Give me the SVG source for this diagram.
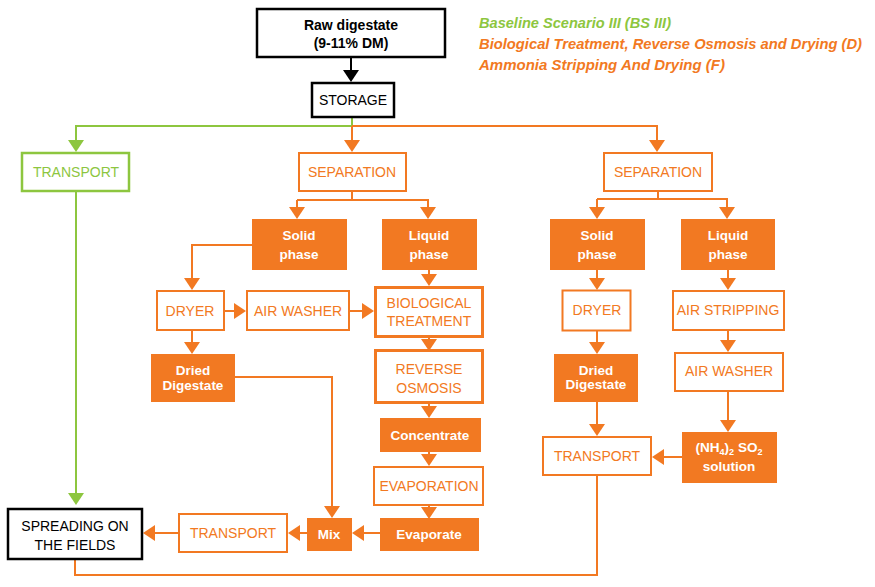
<svg xmlns="http://www.w3.org/2000/svg" width="875" height="587" viewBox="0 0 875 587">
<defs>
<marker id="ao" viewBox="0 -8 12 16" refX="0" refY="0" markerWidth="12" markerHeight="16" markerUnits="userSpaceOnUse" orient="auto"><path d="M0,-8 L12,0 L0,8 Z" fill="#F27922"/></marker>
<marker id="ag" viewBox="0 -8 12 16" refX="0" refY="0" markerWidth="12" markerHeight="16" markerUnits="userSpaceOnUse" orient="auto"><path d="M0,-8 L12,0 L0,8 Z" fill="#8DC63F"/></marker>
<marker id="ak" viewBox="0 -8 12 16" refX="0" refY="0" markerWidth="12" markerHeight="16" markerUnits="userSpaceOnUse" orient="auto"><path d="M0,-8 L12,0 L0,8 Z" fill="#000"/></marker>
</defs>
<style>
text{font-family:"Liberation Sans",Arial,sans-serif;font-size:14px;text-anchor:middle}
.ob{fill:#fff;stroke:#F27922;stroke-width:2}
.ot{fill:#fff;stroke:#F27922;stroke-width:3}
.of{fill:#F27922;stroke:none}
.gb{fill:#fff;stroke:#8DC63F;stroke-width:2.5}
.kb{fill:#fff;stroke:#000;stroke-width:2.5}
.to{fill:#F27922}
.tw{fill:#fff;font-weight:bold;font-size:13.5px}
.tg{fill:#8DC63F}
.tk{fill:#000}
.co{fill:none;stroke:#F27922;stroke-width:2;marker-end:url(#ao)}
.cl{fill:none;stroke:#F27922;stroke-width:2}
.cg{fill:none;stroke:#8DC63F;stroke-width:2;marker-end:url(#ag)}
.cgl{fill:none;stroke:#8DC63F;stroke-width:2}
.ck{fill:none;stroke:#000;stroke-width:2;marker-end:url(#ak)}
.lg{font-weight:bold;font-style:italic;font-size:15px;text-anchor:start}
</style>
<g id="legend">
<text class="lg" x="479" y="28" fill="#8DC63F" textLength="192" lengthAdjust="spacingAndGlyphs">Baseline Scenario III (BS III)</text>
<text class="lg" x="479" y="49" fill="#F27922" textLength="383" lengthAdjust="spacingAndGlyphs">Biological Treatment, Reverse Osmosis and Drying (D)</text>
<text class="lg" x="479" y="70" fill="#F27922" textLength="246" lengthAdjust="spacingAndGlyphs">Ammonia Stripping And Drying (F)</text>
</g>
<g id="connectors">
<path class="ck" d="M351,58 V70"/>
<path class="cgl" d="M352,118 V126"/>
<path class="cg" d="M352,126 H76 V140"/>
<path class="cg" d="M76,192 V493"/>
<path class="co" d="M352,126 H657 V140"/>
<path class="co" d="M352,126 V140"/>
<path class="cl" d="M352,192 V200"/>
<path class="co" d="M297,200 H428 V207"/>
<path class="co" d="M297,200 V207"/>
<path class="co" d="M252,245 H192 V278"/>
<path class="co" d="M429,270 V274"/>
<path class="co" d="M225,311 H234"/>
<path class="co" d="M350,311 H362"/>
<path class="co" d="M192,331 V342"/>
<path class="co" d="M429,338 V339"/>
<path class="co" d="M429,404 V406"/>
<path class="co" d="M429,452 V454"/>
<path class="co" d="M429,506 V507"/>
<path class="co" d="M380,533 H364"/>
<path class="co" d="M235,377 H332 V506"/>
<path class="co" d="M307,533 H300"/>
<path class="co" d="M178,533 H155"/>
<path class="cl" d="M75,560 V575 H597 V476"/>
<path class="cl" d="M658,192 V199"/>
<path class="co" d="M597,199 H727 V207"/>
<path class="co" d="M597,199 V207"/>
<path class="co" d="M597,270 V278"/>
<path class="co" d="M728,270 V278"/>
<path class="co" d="M597,331 V342"/>
<path class="co" d="M728,331 V340"/>
<path class="co" d="M728,392 V420"/>
<path class="co" d="M597,402 V424"/>
<path class="co" d="M682,457 H664"/>
</g>
<g id="raw"><rect class="kb" x="257" y="9" width="188" height="48"/><text class="tk" x="351" y="30" font-weight="bold">Raw digestate</text><text class="tk" x="351" y="48" font-weight="bold">(9-11% DM)</text></g>
<g id="storage"><rect class="kb" x="312" y="83" width="82" height="34"/><text class="tk" x="353" y="105">STORAGE</text></g>
<g id="transport-green"><rect class="gb" x="22" y="153" width="107" height="38"/><text class="tg" x="76" y="177">TRANSPORT</text></g>
<g id="separation-1"><rect class="ob" x="299" y="153" width="107" height="38"/><text class="to" x="352" y="177">SEPARATION</text></g>
<g id="solid-1"><rect class="of" x="252" y="219" width="95" height="51"/><text class="tw" x="299" y="240">Solid</text><text class="tw" x="299" y="259">phase</text></g>
<g id="liquid-1"><rect class="of" x="382" y="219" width="95" height="51"/><text class="tw" x="429" y="240">Liquid</text><text class="tw" x="429" y="259">phase</text></g>
<g id="dryer-1"><rect class="ob" x="157" y="291" width="67" height="39"/><text class="to" x="190" y="316">DRYER</text></g>
<g id="airwasher-1"><rect class="ob" x="247" y="291" width="102" height="39"/><text class="to" x="298" y="316">AIR WASHER</text></g>
<g id="bio"><rect class="ot" x="375.5" y="287.5" width="107" height="49"/><text class="to" x="429" y="308">BIOLOGICAL</text><text class="to" x="429" y="326">TREATMENT</text></g>
<g id="dried-1"><rect class="of" x="151" y="354" width="84" height="48"/><text class="tw" x="193" y="375">Dried</text><text class="tw" x="193" y="390">Digestate</text></g>
<g id="ro"><rect class="ot" x="375.5" y="350.5" width="107" height="52"/><text class="to" x="429" y="374">REVERSE</text><text class="to" x="429" y="393">OSMOSIS</text></g>
<g id="concentrate"><rect class="of" x="380" y="418" width="101" height="34"/><text class="tw" x="430" y="440">Concentrate</text></g>
<g id="evaporation"><rect class="ob" x="374" y="467" width="109" height="38"/><text class="to" x="429" y="491">EVAPORATION</text></g>
<g id="evaporate"><rect class="of" x="380" y="518" width="99" height="33"/><text class="tw" x="429" y="539">Evaporate</text></g>
<g id="mix"><rect class="of" x="307" y="518" width="45" height="33"/><text class="tw" x="329" y="539">Mix</text></g>
<g id="transport-1"><rect class="ob" x="179" y="514" width="108" height="38"/><text class="to" x="233" y="538">TRANSPORT</text></g>
<g id="spreading"><rect class="kb" x="8" y="509" width="134" height="50"/><text class="tk" x="75" y="531">SPREADING ON</text><text class="tk" x="75" y="550">THE FIELDS</text></g>
<g id="separation-2"><rect class="ob" x="604" y="153" width="108" height="38"/><text class="to" x="658" y="177">SEPARATION</text></g>
<g id="solid-2"><rect class="of" x="550" y="219" width="95" height="51"/><text class="tw" x="597" y="240">Solid</text><text class="tw" x="597" y="259">phase</text></g>
<g id="liquid-2"><rect class="of" x="681" y="219" width="94" height="51"/><text class="tw" x="728" y="240">Liquid</text><text class="tw" x="728" y="259">phase</text></g>
<g id="dryer-2"><rect class="ob" x="562.5" y="290.5" width="68" height="40" stroke-width="1.5"/><text class="to" x="597" y="315">DRYER</text></g>
<g id="airstripping"><rect class="ob" x="673" y="291" width="111" height="39"/><text class="to" x="728" y="315">AIR STRIPPING</text></g>
<g id="dried-2"><rect class="of" x="554" y="354" width="84" height="48"/><text class="tw" x="596" y="375">Dried</text><text class="tw" x="596" y="389">Digestate</text></g>
<g id="airwasher-2"><rect class="ob" x="675" y="353" width="108" height="38"/><text class="to" x="729" y="376">AIR WASHER</text></g>
<g id="solution"><rect class="of" x="682" y="432" width="95" height="51"/><text class="tw" x="729" y="452">(NH<tspan font-size="9" dy="3">4</tspan><tspan dy="-3">)</tspan><tspan font-size="9" dy="3">2</tspan><tspan dy="-3"> SO</tspan><tspan font-size="9" dy="3">2</tspan></text><text class="tw" x="729" y="471">solution</text></g>
<g id="transport-2"><rect class="ob" x="543" y="437" width="108" height="38"/><text class="to" x="597" y="461">TRANSPORT</text></g>
</svg>
